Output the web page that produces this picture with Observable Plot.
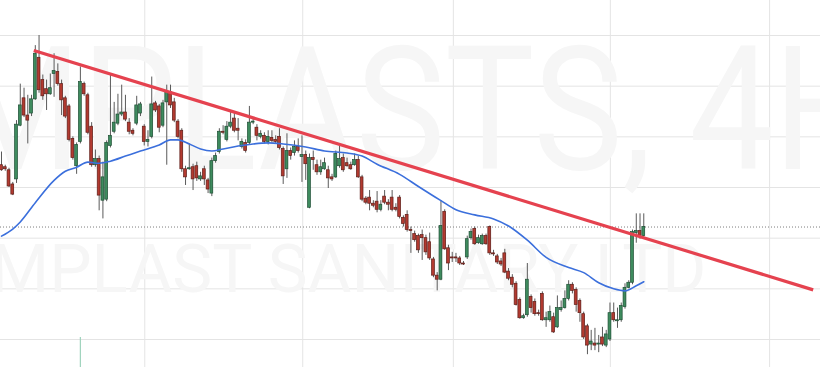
<!DOCTYPE html>
<html><head><meta charset="utf-8">
<script src="https://cdn.jsdelivr.net/npm/d3@7"></script>
<script src="https://cdn.jsdelivr.net/npm/@observablehq/plot@0.6"></script>
<style>
html,body{margin:0;padding:0;background:#fff;}
#chart{width:820px;height:367px;overflow:hidden;}
</style></head><body><div id="chart"></div>
<script>
const opens  = [872,870,867,853,858,911,938,921,923,937,978,956,947,942,962,964,952,938,930,898,871,895,952,941,910,872,878,837,838,891,905,913,922,924,914,906,913,923,910,895,900,933,930,911,934,944,934,915,906,868,868,870,871,858,868,857,844,876,885,905,897,910,918,908,890,894,894,914,909,900,901,895,899,897,900,888,868,886,884,890,880,882,830,879,872,865,868,867,860,860,871,879,874,872,872,877,860,839,840,834,836,828,841,835,840,830,840,820,823,808,804,802,803,800,796,779,763,759,826,790,781,781,780,775,781,800,809,795,794,802,811,785,782,777,785,767,761,755,739,721,724,742,737,726,745,719,719,722,712,729,731,740,754,749,738,725,713,695,696,695,702,694,700,726,718,719,732,751,756,805,807,802];
const highs  = [885,872,869,855,916,952,948,941,941,990,1000,961,956,962,982,972,956,940,932,900,894,969,954,943,914,887,881,875,896,962,934,942,951,941,918,908,940,934,912,906,959,935,932,936,951,951,938,917,908,871,893,873,875,865,871,859,879,884,908,911,915,924,924,918,898,897,930,919,912,906,904,906,906,901,908,890,903,889,896,898,901,886,883,886,877,877,879,871,863,886,891,883,879,875,883,881,862,841,847,837,846,837,847,838,847,834,842,822,827,811,807,804,808,803,805,781,766,837,828,793,786,785,782,777,802,809,811,803,804,804,812,788,784,780,789,770,764,757,741,725,775,744,740,729,747,727,733,726,743,738,748,758,756,751,740,727,715,709,711,704,712,709,736,736,731,736,755,758,808,824,824,824];
const lows   = [866,866,850,842,854,910,919,893,920,936,943,936,926,941,939,950,921,918,895,877,863,893,940,902,870,870,827,819,836,889,903,911,920,915,902,901,911,920,891,890,898,924,904,909,872,928,914,898,865,852,867,847,856,856,852,844,841,874,883,902,895,908,904,896,888,884,892,912,896,898,893,892,894,893,887,853,859,877,881,884,855,857,829,867,862,862,867,849,856,859,869,865,870,867,871,859,836,833,827,830,825,826,833,827,826,826,819,811,806,785,796,785,778,783,778,761,748,758,788,768,776,776,773,773,779,798,793,794,793,793,783,782,774,772,765,758,751,733,720,720,722,726,723,723,718,712,717,706,711,727,730,738,745,727,717,700,685,689,689,687,693,692,698,717,711,717,730,750,754,795,799,801];
const closes = [867,868,851,843,912,931,921,916,937,982,946,940,942,948,965,952,936,920,897,879,892,954,942,904,872,878,842,860,894,901,914,922,924,917,905,903,931,932,895,897,932,926,909,933,944,931,916,900,868,860,869,858,859,861,858,848,876,881,905,904,910,914,906,906,895,886,914,915,901,903,895,900,896,895,889,861,886,881,890,886,882,873,879,877,865,870,874,859,858,883,878,867,871,868,877,860,838,835,834,832,828,833,835,833,828,828,821,814,808,807,798,788,800,786,780,763,759,812,789,775,780,780,775,774,799,806,794,800,802,794,785,784,776,774,766,760,754,734,721,723,759,731,725,725,719,721,727,707,731,731,740,754,748,734,726,702,694,698,694,696,695,705,726,719,719,733,751,756,806,807,802,811];

const maIndex  = [0,3,5,9,14,17,20,23,26,29,33,37,42,45,47,50,53,56,59,63,67,71,75,81,86,92,96,100,106,111,117,121,126,131,135,140,145,151,155,159,163,166,169,171];
const maValues = [802,809,816,835,857,866,870,875,874,876,881,886,892,897,897,893,888,886,888,891,893,894,893,890,886,884,881,873,863,851,837,828,823,819,812,798,781,771,766,756,750,748,753,757];

const trendIndex  = [8.6, 216.1];
const trendValues = [985.2, 749.0];

const priceGrid = [700, 750, 800, 850, 900, 950, 1000];
const timeGrid  = [38.15, 80.2, 120.3, 162.1, 204.5];

const spikeIndex = [21];
const spikeTop   = [702];

const watermarkTitle    = "MPLASTS, 4H";
const watermarkSubtitle = "MPLAST SANITARY LTD";

const xDomain = [-0.266, 218.05];
const yDomain = [672.37, 1034.54];

const candles = opens.map((o, i) => ({i, open: o, high: highs[i], low: lows[i], close: closes[i], up: closes[i] >= o}));
const ma = maIndex.map((i, k) => ({i, v: maValues[k]}));
const trend = trendIndex.map((i, k) => ({i, v: trendValues[k]}));
const spikes = spikeIndex.map((i, k) => ({i, top: spikeTop[k], base: yDomain[0]}));
const lastClose = closes[closes.length - 1];

const wmFont = "'Roboto','DejaVu Sans',sans-serif";

const chart = Plot.plot({
  width: 820,
  height: 367,
  marginTop: 0, marginRight: 0, marginBottom: 0, marginLeft: 0,
  x: {domain: xDomain, axis: null},
  y: {domain: yDomain, axis: null},
  color: {type: "identity"},
  style: {background: "#ffffff", overflow: "hidden"},
  marks: [
    Plot.ruleY(priceGrid, {stroke: "#e4e4e4", strokeWidth: 1}),
    Plot.ruleX(timeGrid, {stroke: "#e4e4e4", strokeWidth: 1}),
    Plot.text([watermarkTitle], {frameAnchor: "top-left", dx: 880, dy: 168, textAnchor: "end", lineAnchor: "bottom", fontSize: 172, fill: "#f6f6f6", fontFamily: wmFont}),
    Plot.text([watermarkSubtitle], {frameAnchor: "top-left", dx: 706, dy: 291, textAnchor: "end", lineAnchor: "bottom", fontSize: 66, fill: "#f6f6f6", fontFamily: wmFont}),
    Plot.ruleY([lastClose], {stroke: "#7d7d7d", strokeWidth: 1, strokeDasharray: "1,2"}),
    Plot.ruleX(spikes, {x: "i", y1: "base", y2: "top", stroke: "#9fd3bd", strokeWidth: 1.2}),
    Plot.ruleX(candles, {x: "i", y1: "low", y2: "high", stroke: "#5a5a5a", strokeWidth: 1}),
    Plot.rect(candles, {
      x1: d => d.i - 0.38, x2: d => d.i + 0.38,
      y1: "open", y2: "close",
      fill: d => d.up ? "#3e8b5e" : "#b23a30",
      stroke: d => d.up ? "#1f4f35" : "#5e1e19",
      strokeWidth: 0.7
    }),
    Plot.line(ma, {x: "i", y: "v", stroke: "#3b6fdc", strokeWidth: 1.6, curve: "monotone-x"}),
    Plot.line(trend, {x: "i", y: "v", stroke: "#e5424f", strokeWidth: 3.2, strokeLinecap: "butt"})
  ]
});

// condense the watermark texts to the widths seen in the reference
const wmLengths = [930, 716];
d3.select(chart).selectAll("text").each(function(d, k) {
  if (k < wmLengths.length) {
    d3.select(this).attr("textLength", wmLengths[k]).attr("lengthAdjust", "spacingAndGlyphs");
  }
});
document.getElementById("chart").appendChild(chart);
</script>
</body></html>
